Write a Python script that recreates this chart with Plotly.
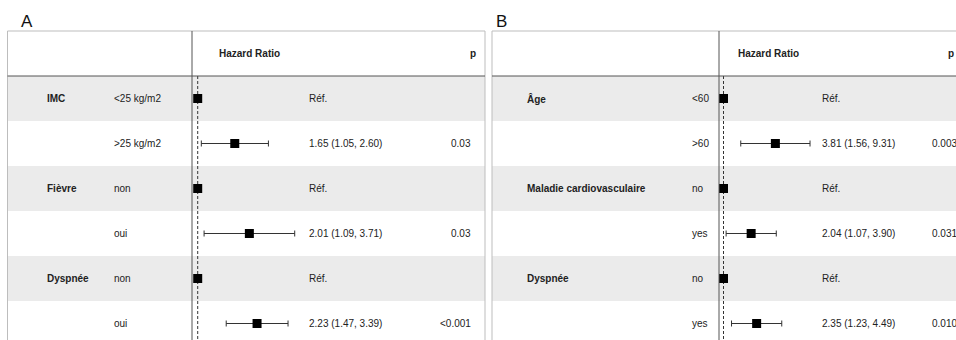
import plotly.graph_objects as go

# ---- Panel A data ----
groups_a = ["IMC", "", "Fièvre", "", "Dyspnée", ""]
levels_a = ["<25 kg/m2", ">25 kg/m2", "non", "oui", "non", "oui"]
hr_a = [1.0, 1.65, 1.0, 2.01, 1.0, 2.23]
lo_a = [None, 1.05, None, 1.09, None, 1.47]
hi_a = [None, 2.60, None, 3.71, None, 3.39]
p_a = ["", "0.03", "", "0.03", "", "<0.001"]

# ---- Panel B data ----
groups_b = ["Âge", "", "Maladie cardiovasculaire", "", "Dyspnée", ""]
levels_b = ["<60", ">60", "no", "yes", "no", "yes"]
hr_b = [1.0, 3.81, 1.0, 2.04, 1.0, 2.35]
lo_b = [None, 1.56, None, 1.07, None, 1.23]
hi_b = [None, 9.31, None, 3.90, None, 4.49]
p_b = ["", "0.003", "", "0.031", "", "0.010"]

W, H = 956, 340
FONT = "Liberation Sans, Arial, Helvetica, sans-serif"
TXT = "#222222"
BAND = "#ebebeb"
BORDER = "#bdbdbd"
RULE = "#555555"


def px(x):
    return x / W


def hr_label(h, lo, hi):
    if lo is None:
        return "Réf."
    return f"{h:.2f} ({lo:.2f}, {hi:.2f})"


fig = go.Figure()
shapes = []
annotations = []

panels = [
    dict(name="A", xaxis="x", groups=groups_a, levels=levels_a, hr=hr_a, lo=lo_a, hi=hi_a, p=p_a,
         box_l=7.5, box_r=485, label_x=19, grp_x=45, lvl_x=112, vline=192,
         hr_head_x=217, hr_txt_x=307, p_right=473, p_head=468),
    dict(name="B", xaxis="x2", groups=groups_b, levels=levels_b, hr=hr_b, lo=lo_b, hi=hi_b, p=p_b,
         box_l=492, box_r=970, label_x=494, grp_x=525, lvl_x=690, vline=719,
         hr_head_x=736, hr_txt_x=820, p_right=959, p_head=946),
]

n = len(levels_a)
for pnl in panels:
    L, R = px(pnl["box_l"]), px(pnl["box_r"])
    # striped rows
    for k in range(0, n, 2):
        shapes.append(dict(type="rect", xref="paper", yref="y", x0=L, x1=R, y0=k - 0.5, y1=k + 0.5,
                           fillcolor=BAND, line_width=0, layer="below"))
    # box border
    shapes.append(dict(type="line", xref="paper", yref="y", x0=L, x1=R, y0=-1.5, y1=-1.5,
                       line=dict(color=BORDER, width=1)))
    shapes.append(dict(type="line", xref="paper", yref="y", x0=L, x1=L, y0=-1.5, y1=n + 0.5,
                       line=dict(color=BORDER, width=1)))
    shapes.append(dict(type="line", xref="paper", yref="y", x0=R, x1=R, y0=-1.5, y1=n + 0.5,
                       line=dict(color=BORDER, width=1)))
    # header rule and forest separator
    shapes.append(dict(type="line", xref="paper", yref="y", x0=L, x1=R, y0=-0.5, y1=-0.5,
                       line=dict(color=RULE, width=1)))
    V = px(pnl["vline"])
    shapes.append(dict(type="line", xref="paper", yref="y", x0=V, x1=V, y0=-1.5, y1=n + 0.5,
                       line=dict(color=RULE, width=1)))

    # panel letter
    annotations.append(dict(text=pnl["name"], xref="paper", yref="paper", x=px(pnl["label_x"]), y=1 - 21 / H,
                            xanchor="left", yanchor="middle", showarrow=False,
                            font=dict(family=FONT, size=17, color="#111")))
    # header texts
    annotations.append(dict(text="<b>Hazard Ratio</b>", xref="paper", yref="y", x=px(pnl["hr_head_x"]), y=-1,
                            xanchor="left", yanchor="middle", showarrow=False,
                            font=dict(family=FONT, size=10, color=TXT)))
    annotations.append(dict(text="<b>p</b>", xref="paper", yref="y", x=px(pnl["p_head"]), y=-1,
                            xanchor="left", yanchor="middle", showarrow=False,
                            font=dict(family=FONT, size=10, color=TXT)))

    for k in range(n):
        if pnl["groups"][k]:
            annotations.append(dict(text=f"<b>{pnl['groups'][k]}</b>", xref="paper", yref="y",
                                    x=px(pnl["grp_x"]), y=k, xanchor="left", yanchor="middle",
                                    showarrow=False, font=dict(family=FONT, size=10, color=TXT)))
        annotations.append(dict(text=pnl["levels"][k], xref="paper", yref="y", x=px(pnl["lvl_x"]), y=k,
                                xanchor="left", yanchor="middle", showarrow=False,
                                font=dict(family=FONT, size=10, color=TXT)))
        annotations.append(dict(text=hr_label(pnl["hr"][k], pnl["lo"][k], pnl["hi"][k]), xref="paper",
                                yref="y", x=px(pnl["hr_txt_x"]), y=k, xanchor="left", yanchor="middle",
                                showarrow=False, font=dict(family=FONT, size=10, color=TXT)))
        if pnl["p"][k]:
            annotations.append(dict(text=pnl["p"][k], xref="paper", yref="y", x=px(pnl["p_right"]), y=k,
                                    xanchor="right", yanchor="middle", showarrow=False,
                                    font=dict(family=FONT, size=10, color=TXT)))

    # reference line at HR = 1
    fig.add_trace(go.Scatter(x=[1, 1], y=[-0.5, n + 0.5], mode="lines", xaxis=pnl["xaxis"], yaxis="y",
                             line=dict(color="#333333", width=1, dash="3px,2px"), hoverinfo="skip"))

    # estimates with confidence intervals
    ys = list(range(n))
    plus = [(hi - h) if hi is not None else 0 for h, hi in zip(pnl["hr"], pnl["hi"])]
    minus = [(h - lo) if lo is not None else 0 for h, lo in zip(pnl["hr"], pnl["lo"])]
    ci_rows = [k for k in ys if pnl["lo"][k] is not None]
    fig.add_trace(go.Scatter(
        x=[pnl["hr"][k] for k in ci_rows], y=ci_rows, mode="markers", xaxis=pnl["xaxis"], yaxis="y",
        marker=dict(symbol="square", size=9, color="black"),
        error_x=dict(type="data", symmetric=False, array=[plus[k] for k in ci_rows],
                     arrayminus=[minus[k] for k in ci_rows], color="#333333", thickness=1, width=3),
        hoverinfo="skip"))
    ref_rows = [k for k in ys if pnl["lo"][k] is None]
    fig.add_trace(go.Scatter(
        x=[pnl["hr"][k] for k in ref_rows], y=ref_rows, mode="markers", xaxis=pnl["xaxis"], yaxis="y",
        marker=dict(symbol="square", size=9, color="black"), hoverinfo="skip"))

# log-scale forest axes (log10 units for range)
ax_common = dict(type="log", showgrid=False, zeroline=False, showticklabels=False, showline=False,
                 ticks="", anchor="y")
fig.update_layout(
    width=W, height=H,
    margin=dict(l=0, r=0, t=0, b=0),
    paper_bgcolor="white", plot_bgcolor="rgba(0,0,0,0)",
    showlegend=False,
    xaxis=dict(domain=[px(192), px(300)], range=[-0.0335, 0.6004], **ax_common),
    xaxis2=dict(domain=[px(719), px(820)], range=[-0.0504, 1.0806], **ax_common),
    yaxis=dict(domain=[0, 1], range=[(H - 98.5) / 45, -98.5 / 45], showgrid=False, zeroline=False,
               showticklabels=False, showline=False, ticks=""),
    shapes=shapes,
    annotations=annotations,
)

fig.write_html("out.html")
